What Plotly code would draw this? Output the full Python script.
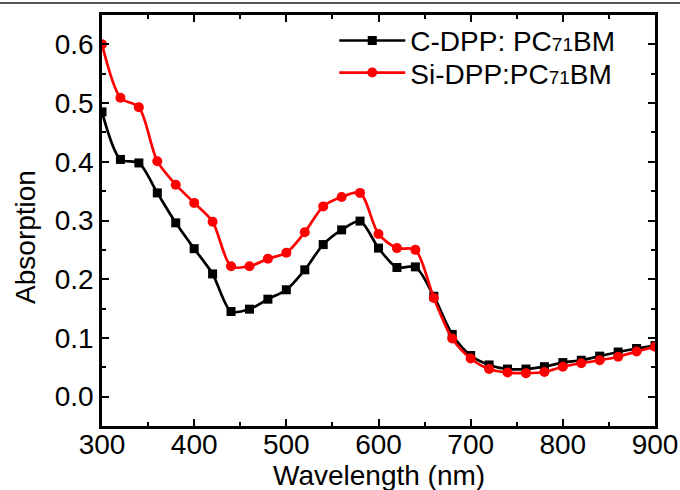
import plotly.graph_objects as go

wavelength = list(range(300, 901, 20))
c_dpp = [0.485, 0.404, 0.398, 0.347, 0.296, 0.252, 0.209, 0.145, 0.149, 0.166, 0.182,
         0.216, 0.259, 0.284, 0.299, 0.253, 0.220, 0.221, 0.171, 0.106, 0.070, 0.054,
         0.047, 0.047, 0.051, 0.058, 0.062, 0.069, 0.076, 0.082, 0.087]
si_dpp = [0.600, 0.509, 0.493, 0.401, 0.361, 0.330, 0.298, 0.222, 0.222, 0.235, 0.245,
          0.280, 0.324, 0.340, 0.347, 0.277, 0.253, 0.250, 0.168, 0.099, 0.065, 0.047,
          0.041, 0.040, 0.042, 0.051, 0.057, 0.062, 0.068, 0.077, 0.085]
names = ["C-DPP: PC<span style='font-size:19px'>71</span>BM",
         "Si-DPP:PC<span style='font-size:19px'>71</span>BM"]
x_ticks = [300, 400, 500, 600, 700, 800, 900]
y_ticks = [0.0, 0.1, 0.2, 0.3, 0.4, 0.5, 0.6]

FONT = "Liberation Sans, Arial, sans-serif"

fig = go.Figure()
fig.add_trace(go.Scatter(
    x=wavelength, y=c_dpp, name=names[0], mode="lines+markers", legend="legend",
    line=dict(color="black", width=2.7, shape="spline", smoothing=0.8),
    marker=dict(symbol="square", size=9, color="black"),
))
fig.add_trace(go.Scatter(
    x=wavelength, y=si_dpp, name=names[1], mode="lines+markers", legend="legend2",
    line=dict(color="#ff0000", width=2.7, shape="spline", smoothing=0.8),
    marker=dict(symbol="circle", size=10, color="#ff0000"),
))

axis_common = dict(
    showline=True, linecolor="black", linewidth=2.5, mirror="ticks",
    ticks="inside", ticklen=7, tickwidth=2, tickcolor="black",
    showgrid=False, zeroline=False, automargin=False,
    tickfont=dict(family=FONT, size=28, color="black"),
)
fig.update_xaxes(range=[300, 900], tickvals=x_ticks, ticklabelstandoff=-8,
                 minor=dict(dtick=50, ticks="inside", ticklen=4, tickwidth=2, tickcolor="black"),
                 **axis_common)
fig.update_yaxes(range=[-0.05, 0.65], tickvals=y_ticks, tickformat=".1f",
                 minor=dict(dtick=0.05, ticks="inside", ticklen=4, tickwidth=2, tickcolor="black"),
                 **axis_common)

legend_common = dict(x=0.42, xanchor="left", yanchor="top",
                     bgcolor="rgba(0,0,0,0)", itemwidth=66,
                     font=dict(family=FONT, size=28, color="black"))

fig.update_layout(
    width=680, height=490,
    margin=dict(l=102, r=25, t=15, b=64),
    paper_bgcolor="white", plot_bgcolor="white",
    font=dict(family=FONT, color="black"),
    showlegend=True,
    legend=dict(y=0.998, **legend_common),
    legend2=dict(y=0.92, **legend_common),
    annotations=[
        dict(text="Wavelength (nm)", xref="paper", yref="paper", x=0.5, y=0,
             yshift=-49, showarrow=False, font=dict(family=FONT, size=28, color="black"),
             xanchor="center", yanchor="middle"),
        dict(text="Absorption", xref="paper", yref="paper", x=0, y=0.46,
             xshift=-76, showarrow=False, textangle=-90,
             font=dict(family=FONT, size=28, color="black"),
             xanchor="center", yanchor="middle"),
    ],
    shapes=[dict(type="line", xref="paper", yref="paper", x0=-0.2, x1=1.1,
                 y0=1.029, y1=1.029, line=dict(color="#555555", width=2))],
)

fig.write_html("out.html", config={"displayModeBar": False},
               post_script="document.body.style.margin='0';document.body.style.overflow='hidden';")
